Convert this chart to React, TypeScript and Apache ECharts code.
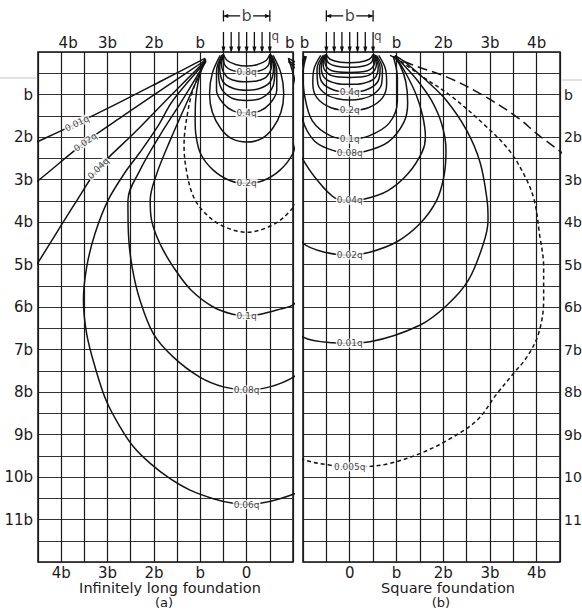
import React, { useEffect, useRef } from "react";
import * as echarts from "echarts";

const FONT = "DejaVu Sans";

// ---------- tick labels ----------
const leftTopTickValues = [-3.85, -3, -2, -1, 0.93];
const leftTopTickLabels = ["4b", "3b", "2b", "b", "b"];
const leftBottomTickValues = [-4, -3, -2, -1, 0];
const leftBottomTickLabels = ["4b", "3b", "2b", "b", "0"];
const rightTopTickValues = [-0.97, 1, 2, 3, 4];
const rightTopTickLabels = ["b", "b", "2b", "3b", "4b"];
const rightBottomTickValues = [0, 1, 2, 3, 4];
const rightBottomTickLabels = ["0", "b", "2b", "3b", "4b"];
const depthTickValues = [1, 2, 3, 4, 5, 6, 7, 8, 9, 10, 11];
const depthTickLabels = ["b", "2b", "3b", "4b", "5b", "6b", "7b", "8b", "9b", "10b", "11b"];

// ---------- load (units of b) ----------
const loadArrowX = [-0.5, -0.333, -0.167, 0, 0.167, 0.333, 0.5];
const loadArrowTop = -0.47;
const loadArrowTip = -0.05;
const dimDepth = -0.85;

// ---------- (a) infinitely long foundation : isobars [x/b, depth/b] ----------
const stripQ09 = [[-0.5, 0.06], [-0.42, 0.2], [-0.22, 0.3], [0, 0.33], [0.22, 0.3], [0.42, 0.2], [0.5, 0.06]];
const stripQ08 = [[-0.5, 0.06], [-0.49, 0.25], [-0.34, 0.42], [0, 0.47], [0.34, 0.42], [0.49, 0.25], [0.5, 0.06]];
const stripQ07 = [[-0.5, 0.06], [-0.54, 0.3], [-0.43, 0.58], [-0.22, 0.68], [0, 0.7], [0.22, 0.68], [0.43, 0.58], [0.54, 0.3], [0.5, 0.06]];
const stripQ06 = [[-0.5, 0.06], [-0.58, 0.35], [-0.51, 0.7], [-0.28, 0.86], [0, 0.9], [0.28, 0.86], [0.51, 0.7], [0.58, 0.35], [0.5, 0.06]];
const stripQ05 = [[-0.51, 0.06], [-0.61, 0.4], [-0.57, 0.8], [-0.33, 1.08], [0, 1.14], [0.33, 1.08], [0.57, 0.8], [0.61, 0.4], [0.51, 0.06]];
const stripQ04 = [[-0.53, 0.07], [-0.65, 0.45], [-0.65, 0.9], [-0.5, 1.22], [-0.28, 1.39], [0, 1.43], [0.28, 1.39], [0.5, 1.22], [0.65, 0.9], [0.65, 0.45], [0.53, 0.07]];
const stripQ03 = [[-0.57, 0.08], [-0.74, 0.5], [-0.8, 0.98], [-0.74, 1.42], [-0.56, 1.8], [-0.32, 2.04], [0, 2.12], [0.32, 2.04], [0.56, 1.8], [0.74, 1.42], [0.8, 0.98], [0.74, 0.5], [0.57, 0.08]];
const stripQ02 = [[-0.9, 0.14], [-1.04, 0.67], [-1.1, 1.14], [-1.11, 1.61], [-1.09, 1.98], [-0.99, 2.4], [-0.72, 2.78], [-0.35, 3.03], [0, 3.09], [0.35, 3.03], [0.72, 2.78], [0.99, 2.4], [1.09, 1.98], [1.11, 1.61], [1.1, 1.14], [1.04, 0.67], [0.9, 0.14]];
const stripDashed = [[-0.88, 0.17], [-1.16, 0.9], [-1.3, 1.61], [-1.35, 2.2], [-1.3, 2.78], [-1.16, 3.37], [-0.94, 3.74], [-0.56, 4.07], [0, 4.24], [0.56, 4.07], [0.94, 3.74], [1.16, 3.37], [1.3, 2.78]];
const stripQ010 = [[-0.88, 0.2], [-1.27, 1.14], [-1.65, 2.08], [-1.95, 2.9], [-2.08, 3.49], [-2.05, 3.96], [-1.87, 4.51], [-1.58, 5.06], [-1.2, 5.6], [-0.72, 6.0], [-0.3, 6.17], [0, 6.2], [0.3, 6.17], [0.72, 6.05], [1.0, 5.95], [1.2, 5.7]];
const stripQ008 = [[-0.88, 0.22], [-1.39, 1.14], [-1.87, 1.96], [-2.3, 2.78], [-2.56, 3.49], [-2.55, 4.27], [-2.47, 5.06], [-2.3, 5.84], [-2.01, 6.63], [-1.58, 7.18], [-1.01, 7.65], [-0.5, 7.88], [0, 7.95], [0.5, 7.88], [1.01, 7.65], [1.58, 7.18]];
const stripQ006 = [[-0.88, 0.23], [-1.59, 1.14], [-1.9, 1.72], [-2.3, 2.36], [-2.62, 2.83], [-2.99, 3.49], [-3.27, 4.27], [-3.45, 5.06], [-3.52, 5.84], [-3.45, 6.63], [-3.27, 7.41], [-3.03, 8.2], [-2.73, 8.82], [-2.44, 9.29], [-2.08, 9.68], [-1.65, 10.04], [-1.22, 10.31], [-0.72, 10.51], [-0.29, 10.62], [0, 10.65], [0.29, 10.62], [0.72, 10.51], [1.22, 10.31], [1.65, 10.04]];
const stripQ004 = [[-0.9, 0.22], [-1.65, 1.04], [-2.41, 1.89], [-3.2, 2.74], [-3.66, 3.49], [-4.08, 4.22], [-4.49, 4.94], [-4.6, 5.12]];
const stripQ002 = [[-0.9, 0.2], [-1.76, 0.83], [-2.62, 1.47], [-3.48, 2.12], [-4.49, 3.02], [-4.6, 3.1]];
const stripQ001 = [[-0.9, 0.15], [-1.82, 0.67], [-2.73, 1.18], [-3.66, 1.68], [-4.49, 2.1], [-4.6, 2.15]];
const stripQ004Right = [[0.9, 0.22], [1.65, 1.04]];
const stripQ002Right = [[0.9, 0.2], [1.76, 0.83]];
const stripQ001Right = [[0.9, 0.15], [1.82, 0.67]];

const stripLabelText = ["0.8q", "0.4q", "0.2q", "0.1q", "0.08q", "0.06q", "0.01q", "0.02q", "0.04q"];
const stripLabelX = [0, 0, 0, 0, 0, 0, -3.66, -3.48, -3.2];
const stripLabelD = [0.47, 1.43, 3.09, 6.2, 7.95, 10.65, 1.68, 2.12, 2.74];
const stripLabelRotate = [0, 0, 0, 0, 0, 0, 26, 35, 45];

// ---------- (b) square foundation : isobars [x/b, depth/b] ----------
const squareQ09 = [[-0.5, 0.06], [-0.42, 0.17], [-0.2, 0.24], [0, 0.25], [0.2, 0.24], [0.42, 0.17], [0.5, 0.06]];
const squareQ08 = [[-0.5, 0.06], [-0.48, 0.22], [-0.3, 0.33], [0, 0.36], [0.3, 0.33], [0.48, 0.22], [0.5, 0.06]];
const squareQ07 = [[-0.5, 0.06], [-0.53, 0.26], [-0.38, 0.44], [0, 0.48], [0.38, 0.44], [0.53, 0.26], [0.5, 0.06]];
const squareQ06 = [[-0.51, 0.06], [-0.57, 0.3], [-0.45, 0.52], [-0.22, 0.59], [0, 0.6], [0.22, 0.59], [0.45, 0.52], [0.57, 0.3], [0.51, 0.06]];
const squareQ05 = [[-0.52, 0.06], [-0.61, 0.35], [-0.53, 0.62], [-0.28, 0.74], [0, 0.76], [0.28, 0.74], [0.53, 0.62], [0.61, 0.35], [0.52, 0.06]];
const squareQ04 = [[-0.54, 0.07], [-0.65, 0.38], [-0.6, 0.7], [-0.33, 0.9], [0, 0.94], [0.33, 0.9], [0.6, 0.7], [0.65, 0.38], [0.54, 0.07]];
const squareQ03 = [[-0.57, 0.08], [-0.7, 0.4], [-0.68, 0.76], [-0.5, 1.0], [-0.26, 1.1], [0, 1.13], [0.26, 1.1], [0.5, 1.0], [0.68, 0.76], [0.7, 0.4], [0.57, 0.08]];
const squareQ02 = [[-0.62, 0.08], [-0.77, 0.42], [-0.79, 0.74], [-0.7, 1.08], [-0.4, 1.31], [0, 1.37], [0.4, 1.31], [0.7, 1.08], [0.79, 0.74], [0.77, 0.42], [0.62, 0.08]];
const squareQ010 = [[-0.93, 0.1], [-1.0, 0.5], [-0.97, 1.0], [-0.8, 1.62], [-0.4, 1.98], [0, 2.05], [0.4, 1.98], [0.84, 1.68], [1.02, 1.14], [1.02, 0.6], [0.93, 0.1]];
const squareQ008 = [[-0.94, 0.1], [-1.1, 0.7], [-1.02, 1.55], [-0.75, 2.1], [-0.32, 2.33], [0, 2.37], [0.32, 2.34], [0.82, 2.12], [1.16, 1.65], [1.24, 1.2], [1.2, 0.7], [1.08, 0.32], [0.94, 0.1]];
const squareQ004 = [[-0.95, 0.1], [-1.3, 1.0], [-1.2, 2.1], [-1.02, 2.5], [-0.75, 2.94], [-0.32, 3.43], [0, 3.49], [0.32, 3.46], [0.82, 3.26], [1.25, 2.86], [1.55, 2.35], [1.62, 2.0], [1.56, 1.5], [1.42, 1.0], [1.2, 0.5], [0.97, 0.1]];
const squareQ002 = [[-0.95, 0.1], [-1.6, 2.0], [-1.35, 3.9], [-1.0, 4.5], [-0.5, 4.72], [0, 4.78], [0.43, 4.71], [1.0, 4.47], [1.5, 4.04], [1.86, 3.49], [2.02, 2.9], [2.06, 2.3], [1.97, 1.7], [1.75, 1.14], [1.45, 0.67], [1.15, 0.3], [0.97, 0.1]];
const squareQ001 = [[-0.95, 0.1], [-2.2, 3.2], [-1.5, 6.2], [-1.0, 6.71], [-0.36, 6.84], [0, 6.85], [0.43, 6.82], [1.5, 6.43], [2.08, 5.96], [2.54, 5.37], [2.86, 4.51], [2.96, 3.95], [2.94, 3.49], [2.79, 2.6], [2.5, 1.84], [2.07, 1.14], [1.64, 0.67], [1.22, 0.27], [0.97, 0.08]];
const squareQ0005 = [[0.97, 0.12], [1.57, 0.59], [2.15, 1.02], [2.85, 1.68], [3.41, 2.31], [3.76, 2.95], [3.95, 3.49], [4.06, 4.27], [4.15, 5.06], [4.15, 5.84], [4.04, 6.63], [3.79, 7.18], [3.5, 7.57], [3.15, 8.04], [2.72, 8.67], [2.08, 9.14], [1.5, 9.45], [0.86, 9.68], [0.43, 9.75], [0, 9.76], [-0.43, 9.72], [-1.0, 9.59], [-1.3, 9.4]];
const squareLongDash = [[0.86, 0.08], [1.36, 0.31], [2.08, 0.59], [2.79, 0.98], [3.58, 1.53], [4.0, 1.92], [4.47, 2.31], [4.6, 2.43]];

const squareLabelText = ["0.4q", "0.2q", "0.1q", "0.08q", "0.04q", "0.02q", "0.01q", "0.005q"];
const squareLabelX = [0, 0, 0, 0, 0, 0, 0, 0];
const squareLabelD = [0.94, 1.37, 2.05, 2.37, 3.49, 4.78, 6.85, 9.76];

// ---------- helpers ----------
const pick = (values: number[], texts: string[]) => (v: number) => {
  const i = values.findIndex((u) => Math.abs(u - v) < 1e-6);
  return i >= 0 ? texts[i] : "";
};

const SHORT_DASH = [4, 3];
const LONG_DASH = [10, 5];

function curve(data: number[][], xi: number, yi: number, dash?: any) {
  return {
    type: "line",
    xAxisIndex: xi,
    yAxisIndex: yi,
    data,
    smooth: 0.35,
    symbol: "none",
    showSymbol: false,
    silent: true,
    clip: true,
    z: 3,
    lineStyle: { color: "#141414", width: 1.5, type: dash || "solid" },
  };
}

function labels(xs: number[], ds: number[], texts: string[], rot: number[] | null, xi: number, yi: number) {
  return {
    type: "scatter",
    xAxisIndex: xi,
    yAxisIndex: yi,
    symbolSize: 0,
    silent: true,
    z: 10,
    data: xs.map((x, i) => ({
      value: [x, ds[i]],
      label: {
        show: true,
        position: "inside",
        formatter: texts[i],
        rotate: rot ? rot[i] : 0,
        fontSize: 9,
        fontFamily: FONT,
        color: "#111",
        backgroundColor: "#fff",
        padding: [0, 1],
      },
    })),
  };
}

function seg(data: any[], xi: number, yi: number) {
  return {
    type: "line",
    xAxisIndex: xi,
    yAxisIndex: yi,
    data,
    symbol: "none",
    showSymbol: true,
    silent: true,
    clip: false,
    z: 4,
    lineStyle: { color: "#111", width: 1.3 },
    itemStyle: { color: "#111" },
  };
}

function header(xi: number, yi: number, qx: number) {
  const out: any[] = [];
  loadArrowX.forEach((x) => {
    out.push(seg([[x, loadArrowTop], { value: [x, loadArrowTip], symbol: "triangle", symbolSize: [4, 7], symbolRotate: 180 }], xi, yi));
  });
  out.push(seg([[-0.5, -0.98], [-0.5, -0.72]], xi, yi));
  out.push(seg([[0.5, -0.98], [0.5, -0.72]], xi, yi));
  out.push(seg([{ value: [-0.46, dimDepth], symbol: "triangle", symbolSize: [4, 6], symbolRotate: 90 }, [-0.14, dimDepth]], xi, yi));
  out.push(seg([[0.14, dimDepth], { value: [0.46, dimDepth], symbol: "triangle", symbolSize: [4, 6], symbolRotate: -90 }], xi, yi));
  out.push({
    type: "scatter",
    xAxisIndex: xi,
    yAxisIndex: yi,
    symbolSize: 0,
    silent: true,
    z: 10,
    data: [
      { value: [0, dimDepth], label: { show: true, position: "inside", formatter: "b", fontSize: 16, fontFamily: FONT, color: "#111" } },
      { value: [qx, -0.38], label: { show: true, position: "inside", formatter: "q", fontSize: 12, fontFamily: FONT, color: "#111" } },
    ],
  });
  return out;
}

const axisText = { fontFamily: FONT, fontSize: 15, color: "#1a1a1a" };

export default function App() {
  const ref = useRef<HTMLDivElement>(null);
  useEffect(() => {
    const chart = echarts.init(ref.current!, null, { renderer: "svg" });
    const hdrMin = -52 / 42.5;
    const gridBase = { outerBoundsMode: "none", containLabel: false };
    const option: any = {
      animation: false,
      backgroundColor: "#ffffff",
      grid: [
        { ...gridBase, left: 38, top: 52, width: 255, height: 510, show: true, borderColor: "#111", borderWidth: 1.5, backgroundColor: "transparent" },
        { ...gridBase, left: 303, top: 52, width: 257, height: 510, show: true, borderColor: "#111", borderWidth: 1.5, backgroundColor: "transparent" },
        { ...gridBase, left: 38, top: 0, width: 255, height: 52 },
        { ...gridBase, left: 303, top: 0, width: 257, height: 52 },
      ],
      xAxis: [
        {
          gridIndex: 0, type: "value", min: -4.5, max: 1, interval: 0.5, position: "bottom",
          axisLine: { show: false }, axisTick: { show: false },
          axisLabel: { ...axisText, margin: 3, customValues: leftBottomTickValues, formatter: pick(leftBottomTickValues, leftBottomTickLabels) },
          splitLine: { show: true, lineStyle: { color: "#1a1a1a", width: 1.2 } },
        },
        {
          gridIndex: 0, type: "value", min: -4.5, max: 1, interval: 0.5, position: "top",
          axisLine: { show: false }, axisTick: { show: false }, splitLine: { show: false },
          axisLabel: { ...axisText, margin: 2, customValues: leftTopTickValues, formatter: pick(leftTopTickValues, leftTopTickLabels) },
        },
        {
          gridIndex: 1, type: "value", min: -1, max: 4.5, interval: 0.5, position: "bottom",
          axisLine: { show: false }, axisTick: { show: false },
          axisLabel: { ...axisText, margin: 3, customValues: rightBottomTickValues, formatter: pick(rightBottomTickValues, rightBottomTickLabels) },
          splitLine: { show: true, lineStyle: { color: "#1a1a1a", width: 1.2 } },
        },
        {
          gridIndex: 1, type: "value", min: -1, max: 4.5, interval: 0.5, position: "top",
          axisLine: { show: false }, axisTick: { show: false }, splitLine: { show: false },
          axisLabel: { ...axisText, margin: 2, customValues: rightTopTickValues, formatter: pick(rightTopTickValues, rightTopTickLabels) },
        },
        { gridIndex: 2, type: "value", min: -4.5, max: 1, show: false },
        { gridIndex: 3, type: "value", min: -1, max: 4.5, show: false },
      ],
      yAxis: [
        {
          gridIndex: 0, type: "value", inverse: true, min: 0, max: 12, interval: 0.5, position: "left",
          axisLine: { show: false }, axisTick: { show: false },
          axisLabel: { ...axisText, margin: 5, customValues: depthTickValues, formatter: pick(depthTickValues, depthTickLabels) },
          splitLine: { show: true, lineStyle: { color: "#333", width: 1 } },
        },
        {
          gridIndex: 1, type: "value", inverse: true, min: 0, max: 12, interval: 0.5, position: "right",
          axisLine: { show: false }, axisTick: { show: false },
          axisLabel: { ...axisText, fontSize: 14, margin: 4, customValues: depthTickValues, formatter: pick(depthTickValues, depthTickLabels) },
          splitLine: { show: true, lineStyle: { color: "#333", width: 1 } },
        },
        { gridIndex: 2, type: "value", inverse: true, min: hdrMin, max: 0, show: false },
        { gridIndex: 3, type: "value", inverse: true, min: hdrMin, max: 0, show: false },
      ],
      series: [
        curve(stripQ09, 0, 0), curve(stripQ08, 0, 0), curve(stripQ07, 0, 0), curve(stripQ06, 0, 0),
        curve(stripQ05, 0, 0), curve(stripQ04, 0, 0), curve(stripQ03, 0, 0), curve(stripQ02, 0, 0),
        curve(stripDashed, 0, 0, SHORT_DASH), curve(stripQ010, 0, 0), curve(stripQ008, 0, 0), curve(stripQ006, 0, 0),
        curve(stripQ004, 0, 0), curve(stripQ002, 0, 0), curve(stripQ001, 0, 0),
        curve(stripQ004Right, 0, 0), curve(stripQ002Right, 0, 0), curve(stripQ001Right, 0, 0),
        labels(stripLabelX, stripLabelD, stripLabelText, stripLabelRotate, 0, 0),

        curve(squareQ09, 2, 1), curve(squareQ08, 2, 1), curve(squareQ07, 2, 1), curve(squareQ06, 2, 1),
        curve(squareQ05, 2, 1), curve(squareQ04, 2, 1), curve(squareQ03, 2, 1), curve(squareQ02, 2, 1),
        curve(squareQ010, 2, 1), curve(squareQ008, 2, 1), curve(squareQ004, 2, 1), curve(squareQ002, 2, 1),
        curve(squareQ001, 2, 1), curve(squareQ0005, 2, 1, SHORT_DASH), curve(squareLongDash, 2, 1, LONG_DASH),
        labels(squareLabelX, squareLabelD, squareLabelText, null, 2, 1),

        ...header(4, 2, 0.62),
        ...header(5, 3, 0.6),
      ],
      graphic: [
        { type: "line", shape: { x1: 0, y1: 78, x2: 36, y2: 78 }, style: { stroke: "#c4c4c4", lineWidth: 1 }, silent: true },
        { type: "line", shape: { x1: 562, y1: 80, x2: 582, y2: 80 }, style: { stroke: "#c4c4c4", lineWidth: 1 }, silent: true },
        { type: "text", x: 170, y: 588, style: { text: "Infinitely long foundation", fontFamily: FONT, fontSize: 14.5, fill: "#1a1a1a", textAlign: "center", textVerticalAlign: "middle" } },
        { type: "text", x: 164, y: 602, style: { text: "(a)", fontFamily: FONT, fontSize: 13, fill: "#1a1a1a", textAlign: "center", textVerticalAlign: "middle" } },
        { type: "text", x: 448, y: 588, style: { text: "Square foundation", fontFamily: FONT, fontSize: 14.5, fill: "#1a1a1a", textAlign: "center", textVerticalAlign: "middle" } },
        { type: "text", x: 441, y: 602, style: { text: "(b)", fontFamily: FONT, fontSize: 13, fill: "#1a1a1a", textAlign: "center", textVerticalAlign: "middle" } },
      ],
    };
    chart.setOption(option);
    return () => chart.dispose();
  }, []);
  return (
    <div
      ref={ref}
      style={{ position: "fixed", left: 0, top: 0, width: 582, height: 611, background: "#fff" }}
    />
  );
}
